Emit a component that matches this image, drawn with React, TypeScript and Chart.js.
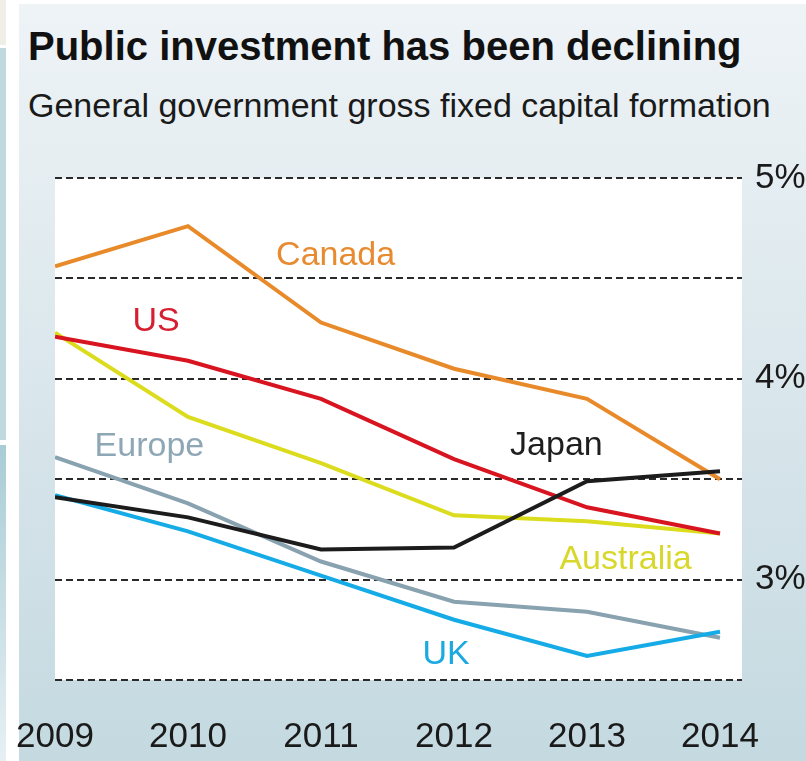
import React, { useEffect, useRef } from "react";
import { Chart, registerables } from "chart.js";

Chart.register(...registerables);

const years = [2009, 2010, 2011, 2012, 2013, 2014];
const yearLabels = ["2009", "2010", "2011", "2012", "2013", "2014"];
const canada = [4.56, 4.76, 4.28, 4.05, 3.9, 3.5];
const us = [4.21, 4.09, 3.9, 3.6, 3.36, 3.23];
const australia = [4.23, 3.81, 3.58, 3.32, 3.29, 3.23];
const japan = [3.41, 3.31, 3.15, 3.16, 3.49, 3.54];
const europe = [3.61, 3.38, 3.09, 2.89, 2.84, 2.71];
const uk = [3.42, 3.24, 3.02, 2.8, 2.62, 2.74];
const yTicks = [2.5, 3, 3.5, 4, 4.5, 5];

// series name, values, line colour, label colour, label anchor (year, value)
const seriesNames = ["Japan", "US", "UK", "Europe", "Australia", "Canada"];
const seriesValues = [japan, us, uk, europe, australia, canada];
const lineColors = ["#1c1c1c", "#d7141f", "#14abe6", "#88a2b0", "#dcdc1e", "#e98a2a"];
const labelColors = ["#1e1e1e", "#d61f30", "#1aa9e1", "#8ea7b6", "#d8d82c", "#e88b30"];
const labelX = [2012.77, 2009.76, 2011.94, 2009.71, 2013.29, 2011.11];
const labelY = [3.667, 4.284, 2.627, 3.662, 3.1, 4.612];

const FONT = "'Liberation Sans', Arial, Helvetica, sans-serif";

const whiteArea = {
  id: "whiteArea",
  beforeDraw(chart: any) {
    const { ctx, chartArea } = chart;
    ctx.save();
    ctx.fillStyle = "#ffffff";
    ctx.fillRect(chartArea.left, chartArea.top, chartArea.right - chartArea.left, chartArea.bottom - chartArea.top);
    ctx.restore();
  },
};

const seriesLabels = {
  id: "seriesLabels",
  afterDatasetsDraw(chart: any) {
    const { ctx, scales } = chart;
    ctx.save();
    ctx.font = `34px ${FONT}`;
    ctx.textAlign = "center";
    ctx.textBaseline = "middle";
    seriesNames.forEach((name, i) => {
      ctx.fillStyle = labelColors[i];
      ctx.fillText(name, scales.x.getPixelForValue(labelX[i]), scales.y.getPixelForValue(labelY[i]));
    });
    ctx.restore();
  },
};

export default function App() {
  const ref = useRef<HTMLCanvasElement>(null);
  useEffect(() => {
    if (!ref.current) return;
    const chart = new Chart(ref.current, {
      type: "line",
      data: {
        datasets: seriesNames.map((name, i) => ({
          label: name,
          data: years.map((yr, j) => ({ x: yr, y: seriesValues[i][j] })),
          borderColor: lineColors[i],
          backgroundColor: lineColors[i],
          borderWidth: 4,
          pointRadius: 0,
          tension: 0,
          fill: false,
          borderJoinStyle: "miter" as const,
        })),
      },
      options: {
        animation: false,
        responsive: false,
        maintainAspectRatio: false,
        layout: { padding: { left: 55, top: 174, right: 0, bottom: 0 } },
        plugins: { legend: { display: false }, tooltip: { enabled: false } },
        scales: {
          x: {
            type: "linear",
            min: 2009,
            max: 2009 + 5 * (687 / 665),
            afterBuildTicks: (scale: any) => {
              scale.ticks = years.map((v) => ({ value: v }));
            },
            afterFit: (scale: any) => {
              scale.height = 81;
              scale.paddingLeft = 0;
              scale.paddingRight = 0;
            },
            grid: { display: false, drawTicks: false },
            border: { display: false },
            ticks: {
              autoSkip: false,
              maxRotation: 0,
              padding: 36,
              color: "#1a1a1a",
              font: { family: FONT, size: 35 },
              callback: (v: any) => {
                const idx = years.indexOf(Number(v));
                return idx >= 0 ? yearLabels[idx] : "";
              },
            },
          },
          y: {
            type: "linear",
            position: "right",
            min: 2.5,
            max: 5,
            afterBuildTicks: (scale: any) => {
              scale.ticks = yTicks.map((v) => ({ value: v }));
            },
            afterFit: (scale: any) => {
              scale.width = 64;
              scale.paddingTop = 0;
              scale.paddingBottom = 0;
            },
            grid: { color: "#2a2a2a", lineWidth: 2, drawTicks: false },
            border: { display: false, dash: [7, 4] },
            ticks: {
              padding: 13,
              color: "#1a1a1a",
              font: { family: FONT, size: 35 },
              callback: (v: any) => (Number.isInteger(Number(v)) ? `${v}%` : ""),
            },
          },
        },
      },
      plugins: [whiteArea, seriesLabels],
    });
    return () => chart.destroy();
  }, []);

  return (
    <div style={{ position: "fixed", left: 0, top: 0, width: 806, height: 761, background: "#ffffff", overflow: "hidden" }}>
      <div style={{ position: "absolute", left: 0, top: 0, width: 6, height: 45, background: "#efefe7" }} />
      <div style={{ position: "absolute", left: 0, top: 48, width: 6, height: 392, background: "#bfd9df" }} />
      <div style={{ position: "absolute", left: 0, top: 445, width: 6, height: 316, background: "linear-gradient(#a9ccd5, #e6f0f3)" }} />
      <div
        style={{
          position: "absolute",
          left: 19,
          top: 4,
          width: 787,
          height: 757,
          background: "linear-gradient(#eef3f6 0%, #dce8ed 45%, #c4d9e0 100%)",
        }}
      >
        <div
          style={{
            position: "absolute",
            left: 9,
            top: 22,
            font: `bold 40px/40px ${FONT}`,
            color: "#111",
            whiteSpace: "nowrap",
          }}
        >
          Public investment has been declining
        </div>
        <div
          style={{
            position: "absolute",
            left: 9,
            top: 84,
            font: `34px/34px ${FONT}`,
            color: "#1a1a1a",
            whiteSpace: "nowrap",
          }}
        >
          General government gross fixed capital formation
        </div>
      </div>
      <canvas ref={ref} width={806} height={757} style={{ position: "absolute", left: 0, top: 4, width: 806, height: 757 }} />
    </div>
  );
}
